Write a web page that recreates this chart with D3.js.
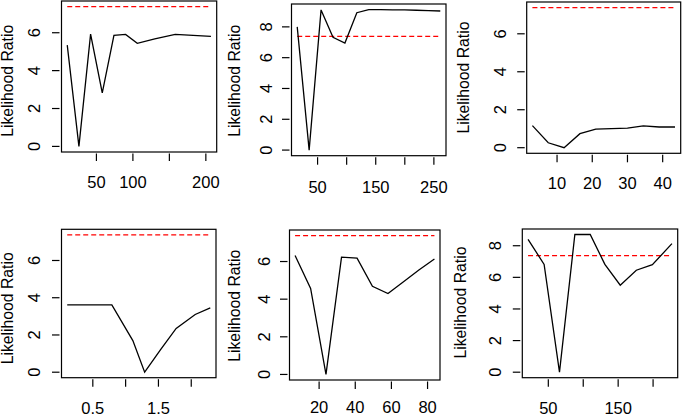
<!DOCTYPE html>
<html>
<head>
<meta charset="utf-8">
<script src="https://cdn.jsdelivr.net/npm/d3@7"></script>
<style>
  html, body { margin: 0; padding: 0; background: #fff; }
  svg { display: block; }
  text { font-family: "Liberation Sans", Arial, Helvetica, sans-serif; fill: #000; }
</style>
</head>
<body>
<svg id="chart" width="682" height="416"></svg>
<script>
// ---- data ----
const criticalValue = 7.38;
const yTitle = "Likelihood Ratio";

const p1x = [10, 26, 42, 58, 74, 90, 106, 130, 158, 207];
const p1y = [5.35, 0, 5.93, 2.83, 5.86, 5.91, 5.44, 5.68, 5.91, 5.81];
const p1xTicks = [50, 100, 150, 200];
const p1xLabels = ["50", "100", "", "200"];
const p1yTicks = [0, 2, 4, 6];

const p2x = [15, 35.5, 56, 76.5, 97, 117.5, 138, 158.5, 179, 199.5, 220, 240.5, 261];
const p2y = [8.0, 0, 9.1, 7.32, 6.95, 8.92, 9.12, 9.12, 9.1, 9.1, 9.08, 9.05, 9.03];
const p2xTicks = [50, 100, 150, 200, 250];
const p2xLabels = ["50", "", "150", "", "250"];
const p2yTicks = [0, 2, 4, 6, 8];

const p3x = [3, 7.5, 12, 16.5, 21, 25.5, 30, 34.5, 39, 43.5];
const p3y = [1.16, 0.26, 0, 0.74, 0.98, 1.0, 1.03, 1.15, 1.09, 1.09];
const p3xTicks = [10, 20, 30, 40];
const p3xLabels = ["10", "20", "30", "40"];
const p3yTicks = [0, 2, 4, 6];

const p4x = [0.11, 0.45, 0.79, 1.11, 1.29, 1.53, 1.77, 2.06, 2.29];
const p4y = [3.62, 3.62, 3.62, 1.70, 0, 1.2, 2.35, 3.1, 3.45];
const p4xTicks = [0.5, 1.0, 1.5, 2.0];
const p4xLabels = ["0.5", "", "1.5", ""];
const p4yTicks = [0, 2, 4, 6];

const p5x = [6.7, 15.3, 23.8, 32.4, 41, 49.5, 58.1, 66.7, 75.2, 83.8];
const p5y = [6.32, 4.57, 0, 6.23, 6.18, 4.68, 4.30, 4.93, 5.55, 6.13];
const p5xTicks = [20, 40, 60, 80];
const p5xLabels = ["20", "40", "60", "80"];
const p5yTicks = [0, 2, 4, 6];

const p6x = [21, 44, 66, 88, 110, 131, 153, 176, 199, 227];
const p6y = [8.4, 6.82, 0, 8.71, 8.71, 6.82, 5.5, 6.45, 6.8, 8.13];
const p6xTicks = [50, 100, 150, 200];
const p6xLabels = ["50", "", "150", ""];
const p6yTicks = [0, 2, 4, 6, 8];

// ---- layout (pixel boxes of each panel) ----
const panels = [
  {x: p1x, y: p1y, xt: p1xTicks, xl: p1xLabels, yt: p1yTicks,
   box: [61.5, 216.7, 1, 152], tl: -27.4, xlOff: 29.7, titleX: -48.3, titleY: 80.8},
  {x: p2x, y: p2y, xt: p2xTicks, xl: p2xLabels, yt: p2yTicks,
   box: [291.5, 446, 4, 155.7], tl: -25.7, xlOff: 31, titleX: -51.5, titleY: 80.8},
  {x: p3x, y: p3y, xt: p3xTicks, xl: p3xLabels, yt: p3yTicks,
   box: [526.7, 680.7, 2, 153.3], tl: -26.7, xlOff: 30, titleX: -57.5, titleY: 77.5},
  {x: p4x, y: p4y, xt: p4xTicks, xl: p4xLabels, yt: p4yTicks,
   box: [61.5, 216, 229.3, 377.7], tl: -27.2, xlOff: 30, titleX: -48.3, titleY: 308.3},
  {x: p5x, y: p5y, xt: p5xTicks, xl: p5xLabels, yt: p5yTicks,
   box: [289.5, 440, 230, 380], tl: -25, xlOff: 27.5, titleX: -49.3, titleY: 305.8},
  {x: p6x, y: p6y, xt: p6xTicks, xl: p6xLabels, yt: p6yTicks,
   box: [522.3, 677.7, 229, 377.7], tl: -27.3, xlOff: 30, titleX: -56.3, titleY: 302.5}
];

const svg = d3.select("#chart");
const FS = 16.5;
const capH = FS * 0.716;

function rExtend(lo, hi) {
  const d = (hi - lo) * 0.04;
  return [lo - d, hi + d];
}

panels.forEach(p => {
  const [x0, x1, y0, y1] = p.box;
  const xs = d3.scaleLinear().domain(rExtend(d3.min(p.x), d3.max(p.x))).range([x0, x1]);
  const ys = d3.scaleLinear()
    .domain(rExtend(Math.min(0, d3.min(p.y)), Math.max(criticalValue, d3.max(p.y))))
    .range([y1, y0]);
  const g = svg.append("g");

  // box
  g.append("rect").attr("x", x0).attr("y", y0)
    .attr("width", x1 - x0).attr("height", y1 - y0)
    .attr("fill", "none").attr("stroke", "#000").attr("stroke-width", 1.2);

  // critical value line (dashed red) spanning data range
  g.append("line")
    .attr("x1", xs(d3.min(p.x))).attr("x2", xs(d3.max(p.x)))
    .attr("y1", ys(criticalValue)).attr("y2", ys(criticalValue))
    .attr("stroke", "#ff0000").attr("stroke-width", 1.3)
    .attr("stroke-dasharray", "5,3");

  // data line
  const line = d3.line().x((d, i) => xs(p.x[i])).y(d => ys(d));
  g.append("path").datum(p.y).attr("d", line)
    .attr("fill", "none").attr("stroke", "#000").attr("stroke-width", 1.3)
    .attr("stroke-linejoin", "miter");

  // x ticks
  p.xt.forEach((t, i) => {
    const xp = xs(t);
    g.append("line").attr("x1", xp).attr("x2", xp)
      .attr("y1", y1 + 1.5).attr("y2", y1 + 9)
      .attr("stroke", "#000").attr("stroke-width", 1.2);
    if (p.xl[i]) {
      g.append("text").attr("x", xp).attr("y", y1 + p.xlOff + capH / 2)
        .attr("text-anchor", "middle").attr("font-size", FS).text(p.xl[i]);
    }
  });

  // y ticks (labels rotated like R's las=0)
  p.yt.forEach(t => {
    const yp = ys(t);
    g.append("line").attr("x1", x0 - 2).attr("x2", x0 - 9.5)
      .attr("y1", yp).attr("y2", yp)
      .attr("stroke", "#000").attr("stroke-width", 1.2);
    const bx = x0 + p.tl + capH / 2;
    g.append("text")
      .attr("transform", `translate(${bx},${yp}) rotate(-90)`)
      .attr("text-anchor", "middle").attr("font-size", FS).text(String(t));
  });

  // y title
  g.append("text")
    .attr("transform", `translate(${x0 + p.titleX},${p.titleY}) rotate(-90)`)
    .attr("text-anchor", "middle").attr("font-size", 16)
    .attr("textLength", 112).attr("lengthAdjust", "spacingAndGlyphs")
    .text(yTitle);
});
</script>
</body>
</html>
